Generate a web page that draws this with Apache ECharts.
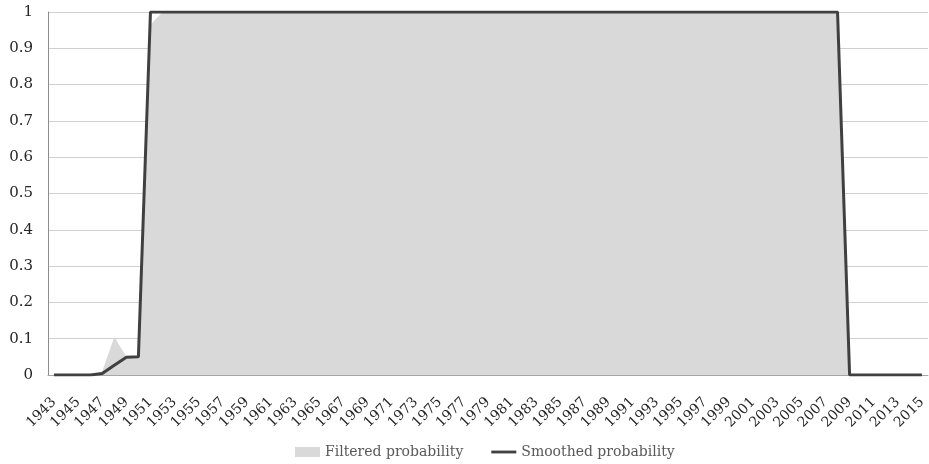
<!DOCTYPE html>
<html><head><meta charset="utf-8">
<script src="https://cdn.jsdelivr.net/npm/echarts@6/dist/echarts.min.js"></script>
<style>html,body{margin:0;padding:0;background:#fff}#c{width:929px;height:464px}</style>
</head><body><div id="c"></div>
<script>
const years = [];
for (let y = 1943; y <= 2015; y++) years.push(String(y));
// Filtered probability, 1943..2015
const filtered = [0,0,0,0,0.01,0.105,0.05,0.05,0.965,
  1,1,1,1,1,1,1,1,1,1, 1,1,1,1,1,1,1,1,1,1, 1,1,1,1,1,1,1,1,1,1,
  1,1,1,1,1,1,1,1,1,1, 1,1,1,1,1,1,1,1,1,1, 1,1,1,1,1,1,1,
  0,0,0,0,0,0,0];
// Smoothed probability, 1943..2015
const smoothed = [0,0,0,0,0.004,0.027,0.049,0.05,1,
  1,1,1,1,1,1,1,1,1,1, 1,1,1,1,1,1,1,1,1,1, 1,1,1,1,1,1,1,1,1,1,
  1,1,1,1,1,1,1,1,1,1, 1,1,1,1,1,1,1,1,1,1, 1,1,1,1,1,1,1,
  0,0,0,0,0,0,0];
const font = '"DejaVu Serif", "Liberation Serif", serif';
const chart = echarts.init(document.getElementById('c'));
chart.setOption({
  animation: false,
  grid: {left: 48, right: 1, top: 12, bottom: 89, containLabel: false},
  legend: {
    bottom: 0, left: 290, itemGap: 28, itemWidth: 25, itemHeight: 10,
    textStyle: {fontFamily: font, fontSize: 14, color: '#595959'},
    data: [
      {name: 'Filtered probability', icon: 'rect', itemStyle: {color: '#d9d9d9'}},
      {name: 'Smoothed probability', icon: 'path://M0,0 H30 V3.4 H0 Z', itemStyle: {color: '#404040'}}
    ]
  },
  xAxis: {
    type: 'category', data: years, boundaryGap: true,
    axisLine: {lineStyle: {color: '#a6a6a6', width: 1}},
    axisTick: {show: false},
    axisLabel: {interval: 1, rotate: 45, fontFamily: font, fontSize: 14, color: '#262626', margin: 25}
  },
  yAxis: {
    type: 'value', min: 0, max: 1, interval: 0.1,
    axisLine: {show: true, lineStyle: {color: '#8c8c8c', width: 1}},
    axisTick: {show: false},
    splitLine: {lineStyle: {color: '#d0d0d0', width: 1}},
    axisLabel: {fontFamily: font, fontSize: 15, color: '#262626', margin: 15,
      formatter: v => String(Math.round(v * 10) / 10)}
  },
  series: [
    {name: 'Filtered probability', type: 'line', data: filtered, symbol: 'none',
      lineStyle: {width: 0, color: '#d9d9d9'}, itemStyle: {color: '#d9d9d9'},
      areaStyle: {color: '#d9d9d9', opacity: 1}},
    {name: 'Smoothed probability', type: 'line', data: smoothed, symbol: 'none',
      lineStyle: {width: 3, color: '#404040'}, itemStyle: {color: '#404040'}}
  ]
});
</script></body></html>
